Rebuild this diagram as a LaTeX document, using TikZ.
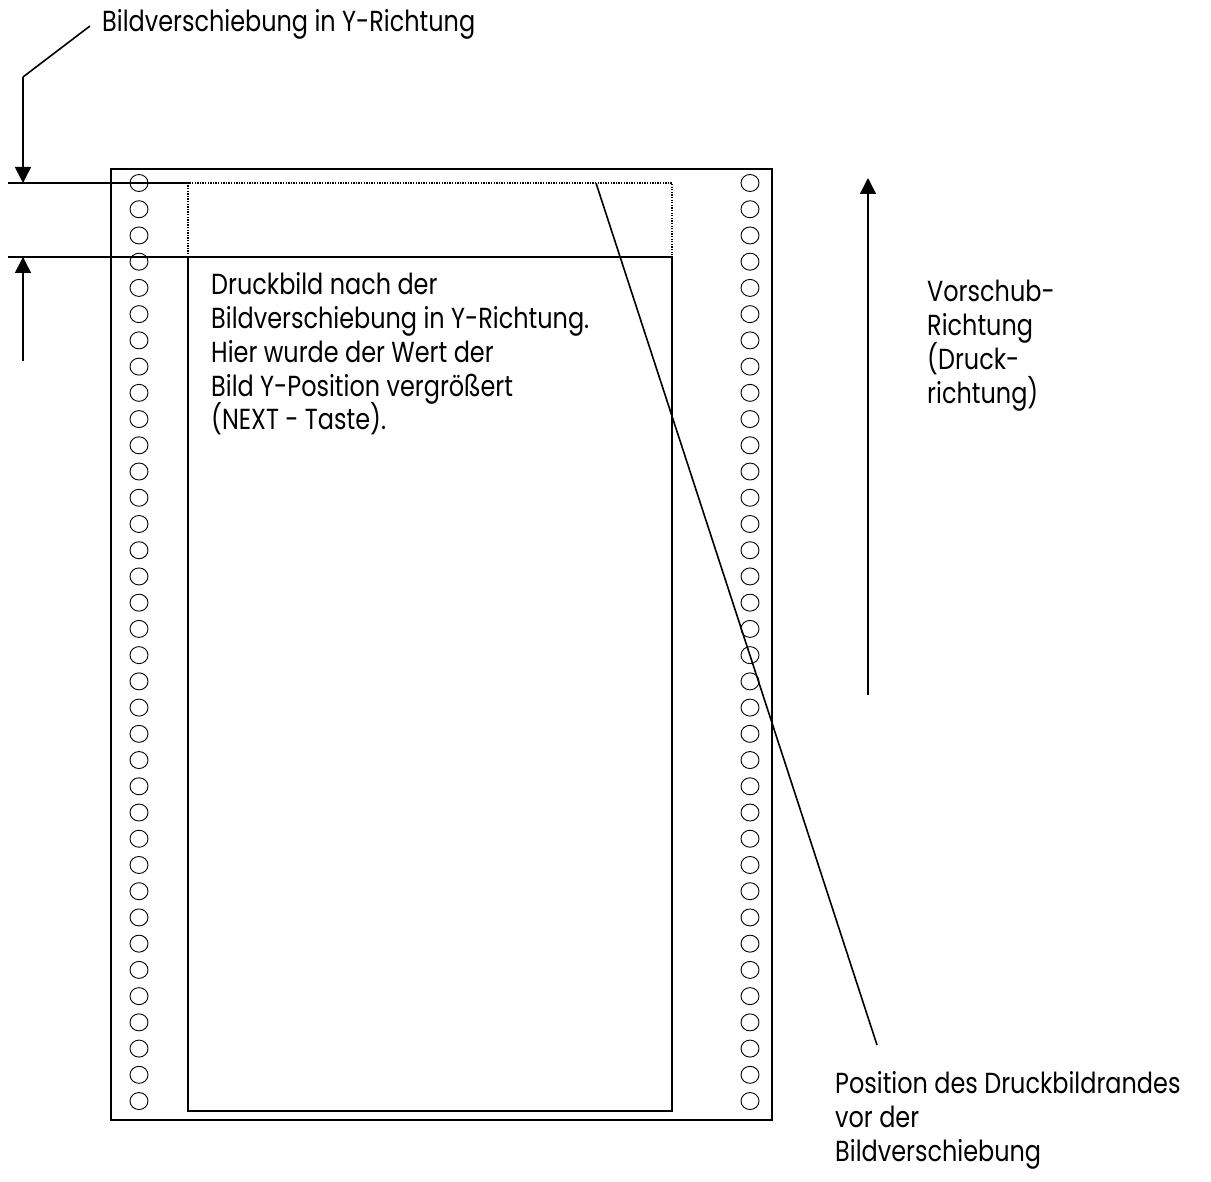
\documentclass[tikz,border=0pt]{standalone}
\usepackage{fontspec}
\setmainfont{Poppins}
\usepackage{graphicx}
\usetikzlibrary{arrows.meta}
\newlength\reflen
\newcommand\lblfont{\fontsize{29}{34}\selectfont}
\newcommand\T[1]{\scalebox{\xs}[1]{#1}}
\tikzset{
  lbl/.style={inner sep=0pt, font=\lblfont, anchor=base west},
  thin line/.style={line width=1.6pt},
  hole/.style={line width=0.9pt},
  dotline/.style={line width=1.4pt, dash pattern=on 1.3pt off 1.3pt},
  arr/.style={line width=1.6pt, -{Triangle[width=16pt,length=16pt]}}
}
\begin{document}
\settowidth\reflen{\lblfont Bildverschiebung in Y-Richtung}%
\pgfmathsetmacro\xs{373/\reflen}%
\begin{tikzpicture}[x=1pt,y=-1pt]
\useasboundingbox (0,0) rectangle (1211,1182);
% paper
\draw[thin line] (111,169) rectangle (772,1120);
% holes
\foreach \i in {0,...,35}{
  \draw[hole] (139,183+\i*26.23) ellipse (9pt and 8.5pt);
  \draw[hole] (750,183+\i*26.23) ellipse (9pt and 8.5pt);
}
% old print image (dotted)
\draw[dotline] (188,257) -- (188,183) -- (672,183) -- (672,257);
% new print image
\draw[thin line] (188,257) rectangle (672,1111);
% reference lines
\coordinate (h1a) at (8,183);
\coordinate (h1b) at (188,183);
\coordinate (h2a) at (8,257);
\coordinate (h2b) at (188,257);
\draw[thin line] (h1a) -- (h1b);
\draw[thin line] (h2a) -- (h2b);
% dimension arrows
\coordinate (ldr) at (23,77);
\coordinate (ldrend) at (90,26);
\coordinate (dtip) at (23,183);
\coordinate (ubase) at (23,361);
\coordinate (utip) at (23,257);
\draw[thin line] (ldrend) -- (ldr);
\draw[arr] (ldr) -- (dtip);
\draw[arr] (ubase) -- (utip);
% top label
\node[lbl] (t0) at (102,32) {\T{Bildverschiebung in Y-Richtung}};
% inner text
\node[lbl] (i1) at (211,295) {\T{Druckbild nach der}};
\node[lbl] (i2) at (211,329) {\T{Bildverschiebung in Y-Richtung.}};
\node[lbl] (i3) at (211,363) {\T{Hier wurde der Wert der}};
\node[lbl] (i4) at (211,396) {\T{Bild Y-Position vergrößert}};
\node[lbl] (i5) at (211,430) {\T{(NEXT - Taste).}};
% feed direction
\coordinate (fbase) at (868,695);
\coordinate (ftip) at (868,178);
\draw[arr] (fbase) -- (ftip);
\node[lbl] (r1) at (927,302) {\T{Vorschub-}};
\node[lbl] (r2) at (927,336) {\T{Richtung}};
\node[lbl] (r3) at (927,370) {\T{(Druck-}};
\node[lbl] (r4) at (927,404) {\T{richtung)}};
% slanted pointer
\coordinate (s1) at (596,183);
\coordinate (s2) at (877,1045);
\draw[thin line] (s1) -- (s2);
\node[lbl] (b1) at (835,1093) {\T{Position des Druckbildrandes}};
\node[lbl] (b2) at (835,1127) {\T{vor der}};
\node[lbl] (b3) at (835,1161) {\T{Bildverschiebung}};
\end{tikzpicture}
\end{document}
